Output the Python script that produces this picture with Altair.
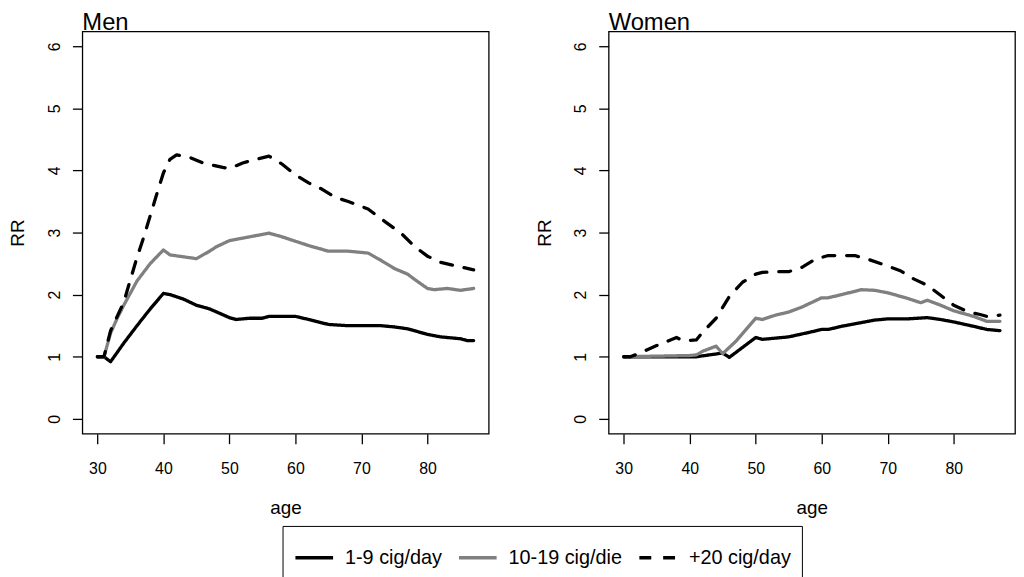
import altair as alt
import pandas as pd

FONT = "Liberation Sans"

SERIES = ["1-9 cig/day", "10-19 cig/die", "+20 cig/day"]
PANELS = ["Men", "Women"]
X_TICKS = [30, 40, 50, 60, 70, 80]
Y_TICKS = [0, 1, 2, 3, 4, 5, 6]

# ---- Men ----
men_low_age = [30, 31, 32, 34, 36, 38, 40, 41, 43, 45, 47, 50, 51, 53, 55, 56, 60, 62, 65, 68, 73, 75, 77, 80, 82, 85, 86, 87]
men_low_rr = [1.0, 1.0, 0.92, 1.22, 1.50, 1.77, 2.02, 2.0, 1.93, 1.83, 1.77, 1.63, 1.60, 1.62, 1.62, 1.65, 1.65, 1.60, 1.52, 1.50, 1.50, 1.48, 1.45, 1.36, 1.32, 1.29, 1.26, 1.26]

men_mid_age = [30, 31, 32, 33, 34, 36, 38, 40, 41, 43, 45, 47, 48, 50, 52, 54, 56, 58, 60, 62, 65, 68, 70, 71, 73, 75, 77, 78, 80, 81, 83, 85, 87]
men_mid_rr = [1.0, 1.0, 1.38, 1.62, 1.83, 2.22, 2.50, 2.72, 2.64, 2.61, 2.58, 2.70, 2.77, 2.87, 2.91, 2.95, 2.99, 2.93, 2.86, 2.79, 2.70, 2.70, 2.68, 2.67, 2.55, 2.42, 2.33, 2.25, 2.10, 2.08, 2.10, 2.07, 2.10]

men_high_age = [30, 31, 32, 34, 36, 37, 39, 40, 41, 42, 44, 46, 49, 50, 52, 54, 56, 57, 58, 60, 62, 64, 66, 68, 71, 73, 76, 78, 80, 82, 84, 87]
men_high_rr = [1.0, 1.0, 1.42, 1.88, 2.60, 2.92, 3.62, 3.96, 4.18, 4.25, 4.21, 4.12, 4.05, 4.03, 4.12, 4.18, 4.23, 4.17, 4.10, 3.93, 3.80, 3.70, 3.57, 3.50, 3.38, 3.22, 2.99, 2.78, 2.62, 2.52, 2.47, 2.40]

# ---- Women ----
women_low_age = [30, 41, 43, 45, 46, 48, 50, 51, 53, 55, 58, 60, 61, 63, 65, 68, 70, 73, 76, 78, 80, 83, 85, 87]
women_low_rr = [1.0, 1.0, 1.03, 1.06, 0.99, 1.15, 1.31, 1.28, 1.30, 1.32, 1.39, 1.44, 1.44, 1.49, 1.53, 1.59, 1.61, 1.61, 1.63, 1.60, 1.56, 1.49, 1.44, 1.42]

women_mid_age = [30, 40, 41, 42, 44, 45, 47, 50, 51, 53, 55, 57, 60, 61, 63, 66, 68, 70, 73, 75, 76, 78, 80, 83, 85, 87]
women_mid_rr = [1.0, 1.02, 1.03, 1.09, 1.17, 1.05, 1.25, 1.62, 1.60, 1.67, 1.72, 1.80, 1.95, 1.95, 2.00, 2.08, 2.07, 2.03, 1.94, 1.87, 1.91, 1.83, 1.74, 1.65, 1.57, 1.57]

women_high_age = [30, 31, 32, 35, 38, 39, 41, 42, 44, 46, 48, 50, 51, 53, 55, 57, 59, 61, 65, 67, 70, 72, 74, 76, 78, 80, 82, 84, 85, 87]
women_high_rr = [1.0, 1.0, 1.04, 1.18, 1.31, 1.26, 1.27, 1.40, 1.62, 1.97, 2.20, 2.33, 2.36, 2.37, 2.37, 2.44, 2.57, 2.63, 2.63, 2.57, 2.46, 2.38, 2.25, 2.15, 1.99, 1.83, 1.73, 1.68, 1.65, 1.67]

table = {
    ("Men", SERIES[0]): (men_low_age, men_low_rr),
    ("Men", SERIES[1]): (men_mid_age, men_mid_rr),
    ("Men", SERIES[2]): (men_high_age, men_high_rr),
    ("Women", SERIES[0]): (women_low_age, women_low_rr),
    ("Women", SERIES[1]): (women_mid_age, women_mid_rr),
    ("Women", SERIES[2]): (women_high_age, women_high_rr),
}
rows = []
for (panel, series), (ages, vals) in table.items():
    for a, v in zip(ages, vals):
        rows.append({"panel": panel, "series": series, "age": a, "rr": v})
df = pd.DataFrame(rows)

legend = alt.Legend(
    orient="none", legendX=202, legendY=499, direction="horizontal", columns=3,
    title=None, symbolType="stroke", symbolSize=1444, symbolStrokeWidth=3.5,
    labelFontSize=20, labelFont=FONT, labelColor="black", labelOffset=10,
    columnPadding=10, padding=11, strokeColor="black",
)
color = alt.Color("series:N", scale=alt.Scale(domain=SERIES, range=["#000000", "#808080", "#000000"]), legend=legend)
dash = alt.StrokeDash("series:N", scale=alt.Scale(domain=SERIES, range=[[1, 0], [1, 0], [12, 12]]), legend=legend)

x = alt.X("age:Q", scale=alt.Scale(domain=[27.72, 89.28], nice=False, zero=False),
          axis=alt.Axis(values=X_TICKS, title="age", labelPadding=17.5, titlePadding=21.5))
y = alt.Y("rr:Q", scale=alt.Scale(domain=[-0.24, 6.24], nice=False, zero=False),
          axis=alt.Axis(values=Y_TICKS, title="RR", labelAngle=270, labelAlign="center",
                        labelBaseline="alphabetic", labelPadding=13, titlePadding=19))


def panel(name):
    layers = []
    for s in SERIES:
        layers.append(
            alt.Chart(df)
            .transform_filter((alt.datum.panel == name) & (alt.datum.series == s))
            .mark_line(strokeWidth=3.3, strokeCap="round", strokeJoin="round")
            .encode(x=x, y=y, color=color, strokeDash=dash)
        )
    return alt.layer(*layers).properties(
        width=410, height=406,
        title=alt.TitleParams(name, anchor="start", frame="group", fontSize=24, fontWeight="normal",
                              baseline="alphabetic", offset=-23, font=FONT, color="black"),
    )


chart = (
    alt.hconcat(panel("Men"), panel("Women"), spacing=45)
    .properties(padding={"left": 0, "top": 0, "right": 0, "bottom": 0})
    .configure_view(stroke="black", strokeWidth=1.3)
    .configure_axis(domain=False, grid=False, tickColor="black", tickSize=10, tickWidth=1.3,
                    labelFont=FONT, labelFontSize=16, labelColor="black",
                    titleFont=FONT, titleFontSize=19, titleFontWeight="normal", titleColor="black")
)

chart.save("out.html", embed_options={"renderer": "svg", "actions": False})
